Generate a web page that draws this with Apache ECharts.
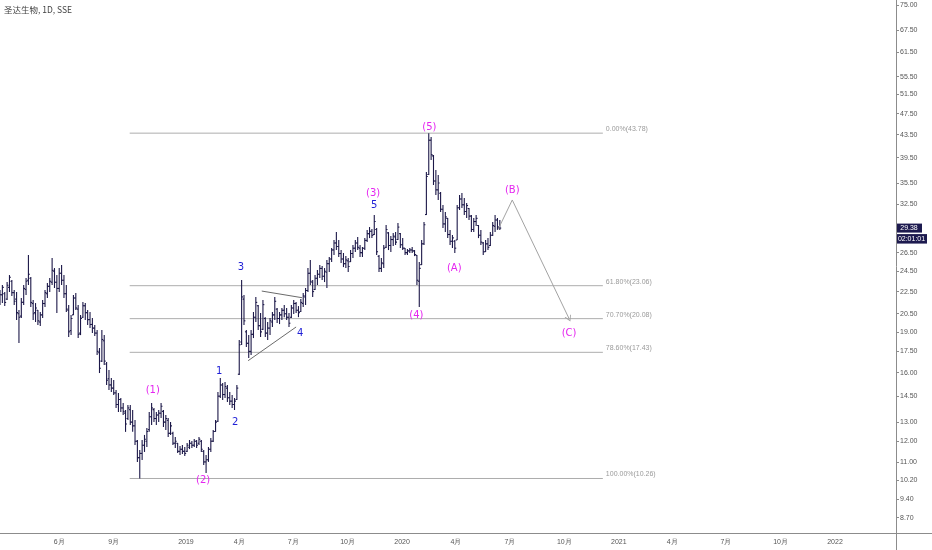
<!DOCTYPE html>
<html>
<head>
  <meta charset="utf-8" />
  <title>圣达生物 1D</title>
  <script src="https://cdn.jsdelivr.net/npm/echarts@6/dist/echarts.min.js"></script>
  <style>
    html, body { margin: 0; padding: 0; background: #fff; }
    #main { width: 932px; height: 550px; }
  </style>
</head>
<body>
<div id="main"></div>
<script type="text/javascript">
  // bars: one every 4 calendar days from barStart, [open, high, low, close]
  var barStart = '2018-02-21';
  var barStepDays = 4;
  var ohlc2018 = [
    [21.6,22.65,21.26,22.2],[22.2,23.13,21.44,22.9],[22.3,22.46,21.17,21.5],[21.8,23.42,21.72,23.1],
    [22.9,24.12,22.46,23.9],[23.5,23.62,22.08,22.4],[22.4,22.65,21.26,21.6],[21.8,22.46,19.96,20.6],
    [20.5,20.82,18.13,20.2],[20.3,21.9,20.13,21.5],[21.5,23.13,21.26,22.8],[22.7,23.82,22.18,23.5],
    [23.6,26.23,23.13,24.2],[23.8,23.92,21.09,21.5],[21.4,21.72,19.96,20.5],[20.6,21.44,19.8,21.0],
    [20.8,20.82,19.55,19.9],[19.8,20.65,19.47,20.4],[20.4,21.72,20.13,21.4],[21.4,22.65,21.09,22.4],
    [22.3,23.33,21.9,23.0],[23.0,23.82,22.46,23.5],[23.4,25.9,23.13,24.6],[24.5,24.84,22.84,23.4],
    [23.4,24.12,20.56,22.8],[22.8,24.84,22.46,24.3],[24.3,25.15,23.13,23.6],[23.6,24.12,21.9,22.3],
    [22.3,23.13,20.65,20.9],[20.8,21.26,18.59,19.0],[19.1,20.39,18.74,20.1],[20.4,22.18,20.39,21.9],
    [21.9,22.37,20.82,21.0],[20.9,21.26,18.51,18.8],[18.9,20.39,18.74,20.1],[20.2,21.53,20.13,21.2],
    [21.2,21.44,19.96,20.6],[20.6,20.82,19.55,20.0],[20.0,20.65,19.3,19.6],[19.6,20.13,18.9,19.3],
    [19.3,19.55,18.67,18.9],[18.9,19.14,17.23,17.5],[17.4,17.75,15.98,16.3],[16.8,19.14,16.74,18.4],
    [18.3,18.74,16.53,16.8],[16.6,16.74,15.19,15.5],[15.6,16.18,14.88,15.2],[15.2,15.65,14.76,15.0],
    [15.0,15.52,14.57,14.7],[14.7,14.88,13.8,14.0],[14.0,14.7,13.57,14.3],[14.3,14.39,13.57,13.8],
    [13.8,14.09,13.4,13.6],[13.5,13.68,12.48,12.9],[13.2,13.97,13.12,13.8],[13.7,13.97,12.84,13.0],
    [13.0,13.68,12.48,12.8],[12.8,13.12,11.81,12.0],[12.0,12.06,11.0,11.2],[11.2,11.56,10.26,11.4],
    [11.4,12.06,11.09,11.8],[11.8,12.32,11.47,12.1],[12.0,12.68,11.71,12.5],[12.6,13.57,12.48,13.3],
    [13.3,14.09,12.84,13.8],[13.7,13.8,13.01,13.2],[13.2,13.57,12.84,13.4],[13.4,13.68,13.01,13.5],
    [13.5,14.09,13.23,13.9],[13.6,13.68,12.74,13.0],[13.0,13.4,12.58,13.2],[13.1,13.23,12.22,12.4],
    [12.4,13.01,12.32,12.8],[12.4,12.48,11.81,11.9],[11.9,12.22,11.66,12.0],[11.9,11.91,11.42,11.5],
    [11.5,11.76,11.32,11.6],[11.6,11.81,11.37,11.5],[11.5,11.71,11.28,11.4]
  ];
  var ohlc2019 = [
    [11.5,11.91,11.47,11.8],[11.7,12.06,11.61,11.9],[11.9,12.01,11.66,11.8],[11.8,12.11,11.71,12.0],
    [12.0,12.06,11.66,11.8],[11.9,12.22,11.81,12.1],[12.0,12.06,11.47,11.6],[11.5,11.56,10.86,11.0],
    [11.0,11.32,10.5,11.1],[11.1,11.71,11.0,11.6],[11.6,12.16,11.47,12.0],[12.0,12.58,11.96,12.5],
    [12.5,13.12,12.48,13.0],[13.05,14.76,13.01,14.5],[14.5,15.65,14.39,15.2],[15.2,15.32,14.27,14.6],
    [14.6,15.39,14.39,15.1],[15.0,15.19,14.15,14.4],[14.4,14.76,13.97,14.2],[14.2,14.57,13.8,14.0],
    [14.0,14.39,13.68,14.2],[14.3,15.19,14.27,15.0],[15.9,18.36,15.85,18.0],[18.2,23.62,17.97,22.0],
    [21.8,22.18,19.55,19.9],[19.0,19.14,17.82,18.1],[18.1,18.74,17.02,17.5],[17.5,19.14,17.23,18.8],
    [18.8,20.65,18.51,20.2],[20.2,22.0,19.8,21.5],[21.2,21.26,19.14,19.5],[19.5,20.56,18.59,19.0],
    [19.2,21.72,19.14,21.3],[20.1,20.21,18.59,18.9],[18.9,19.8,18.36,19.3],[19.3,20.13,18.74,19.9],
    [19.8,20.65,19.38,20.4],[20.4,22.0,19.96,21.6],[20.9,20.99,19.71,20.1],[20.1,20.65,19.63,20.4],
    [20.4,20.99,19.96,20.8],[20.8,21.26,20.21,20.5],[20.5,20.99,19.96,20.2],[20.2,20.56,19.38,19.7],
    [20.2,21.26,20.13,21.0],[21.0,21.72,20.47,21.4],[21.4,21.53,20.56,20.8],[20.8,21.17,20.21,20.6],
    [20.7,21.81,20.65,21.5],[21.4,22.37,21.09,22.1],[22.0,22.84,21.26,22.6],[22.6,24.84,22.46,24.3],
    [24.3,25.69,23.13,23.5],[23.4,23.62,22.0,22.5],[22.7,24.12,22.65,23.8],[23.8,24.63,23.13,24.2],
    [24.2,25.15,23.82,24.8],[24.8,25.05,23.62,24.0],[24.0,24.84,23.42,24.5],[24.4,25.69,22.84,25.3],
    [25.3,26.01,24.42,25.8],[25.8,27.02,25.47,26.8],[26.8,27.94,26.23,27.6],[27.6,28.89,26.79,27.2],
    [27.2,27.94,26.01,26.4],[26.4,26.79,25.36,25.8],[25.8,26.46,24.94,25.3],[25.3,26.12,24.84,25.7],
    [25.6,25.9,24.42,25.0],[25.5,26.79,25.47,26.4],[26.4,27.36,25.9,27.0],[27.0,27.94,26.57,27.6],
    [27.6,28.29,26.79,27.1],[27.0,27.36,26.01,26.5],[26.5,27.13,26.01,27.0],[27.0,28.17,26.79,27.9],
    [27.9,29.14,27.71,28.7],[28.7,29.51,28.17,29.0],[29.0,29.26,28.17,28.5],[28.6,31.04,28.53,30.2],
    [29.2,29.39,26.23,26.6],[26.1,26.23,24.42,24.8],[24.8,25.9,24.42,25.4],[25.3,27.36,24.84,27.0],
    [27.1,29.76,27.02,29.2],[28.8,28.89,26.79,27.3],[27.3,28.41,26.57,28.0],[28.0,28.77,27.24,28.4],
    [28.3,28.89,27.36,27.7],[28.0,30.01,27.94,29.5],[28.7,28.77,27.02,27.4]
  ];
  var ohlc2020 = [
    [27.4,28.17,26.79,27.0],[27.0,27.02,26.23,26.5],[26.5,26.9,26.23,26.7],[26.7,27.02,26.46,26.8],
    [26.8,27.13,26.46,26.7],[26.7,26.79,26.12,26.3],[26.2,26.23,23.13,23.6],[23.5,25.47,21.09,24.8],
    [25.2,27.94,25.15,27.5],[27.5,30.14,27.36,29.8],[31.1,37.19,31.04,36.5],[36.8,43.78,36.72,42.5],
    [42.5,43.08,39.11,40.0],[39.8,39.94,35.21,35.8],[35.8,37.5,33.76,34.5],[34.5,36.72,33.06,35.5],
    [34.0,34.19,31.44,31.8],[31.8,32.37,29.39,29.9],[29.9,31.44,28.89,30.8],[30.6,30.65,28.17,28.6],
    [28.6,29.14,27.36,27.8],[27.8,28.53,27.02,28.2],[27.8,27.94,26.46,27.0],[27.95,32.37,27.94,32.0],
    [32.0,33.76,31.7,33.2],[33.2,34.05,31.96,32.4],[32.4,33.33,31.04,31.5],[31.5,32.64,30.65,32.3],
    [31.9,31.96,30.39,30.9],[30.9,31.04,28.89,29.2],[29.2,30.65,28.89,30.2],[30.2,31.04,29.64,30.6],
    [29.7,29.76,28.17,28.5],[28.5,29.14,27.36,27.7],[27.6,27.71,26.23,26.6],[26.6,27.94,26.57,27.5],
    [27.5,28.17,26.79,27.1],[27.3,28.89,27.24,28.5],[28.5,30.14,28.41,29.7],[29.6,31.04,28.89,30.4],
    [30.4,30.65,29.14,29.5],[29.5,30.39,29.14,29.38]
  ];

  // axes
  var xRange = ['2018-02-21', '2022-04-14'];
  var priceRange = [8.16, 76.6];
  var xTickDates = ['2018-06-01','2018-09-01','2019-01-01','2019-04-01','2019-07-01','2019-10-01',
    '2020-01-01','2020-04-01','2020-07-01','2020-10-01','2021-01-01','2021-04-01','2021-07-01',
    '2021-10-01','2022-01-01'];
  var yTicks = [75, 67.5, 61.5, 55.5, 51.5, 47.5, 43.5, 39.5, 35.5, 32.5, 26.5, 24.5, 22.5,
    20.5, 19, 17.5, 16, 14.5, 13, 12, 11, 10.2, 9.4, 8.7];

  // fibonacci retracement
  var fibHigh = 43.78;
  var fibLow = 10.26;
  var fibRatios = [0, 0.618, 0.707, 0.786, 1];
  var fibSpan = ['2018-09-28', '2020-12-05'];

  // wave counts [label, date, price]
  var majorWaves = [
    ['(1)', '2018-11-06', 14.88], ['(2)', '2019-01-30', 10.19], ['(3)', '2019-11-13', 34.05],
    ['(4)', '2020-01-25', 20.39], ['(5)', '2020-02-16', 44.9], ['(A)', '2020-03-29', 24.84],
    ['(B)', '2020-07-05', 34.4], ['(C)', '2020-10-09', 18.9]
  ];
  var minorWaves = [
    ['1', '2019-02-26', 16.1], ['2', '2019-03-25', 13.0], ['3', '2019-04-04', 24.94],
    ['4', '2019-07-13', 18.9], ['5', '2019-11-15', 32.37]
  ];

  // drawings
  var triangleUpper = [['2019-05-09', 22.55], ['2019-07-16', 21.93]];
  var triangleLower = [['2019-04-16', 16.83], ['2019-07-06', 19.39]];
  var projection = [['2020-06-11', 29.2], ['2020-07-05', 33.06], ['2020-10-09', 20.08]];

  var barColor = '#1c1848';
  var magenta = '#e526f0';
  var blue = '#1f1fd6';
  var DAY = 86400000;

  function ts(s) { return Date.parse(s + 'T00:00:00Z'); }
  function pt(p) { return [ts(p[0]), Math.log(p[1])]; }

  var t0 = ts(barStart);
  var allBars = ohlc2018.concat(ohlc2019, ohlc2020);
  var barData = allBars.map(function (b, i) {
    return [t0 + i * barStepDays * DAY, Math.log(b[0]), Math.log(b[1]), Math.log(b[2]), Math.log(b[3])];
  });
  var lastClose = allBars[allBars.length - 1][3];

  function renderOHLC(params, api) {
    var x = api.value(0);
    var o = api.coord([x, api.value(1)]);
    var h = api.coord([x, api.value(2)]);
    var l = api.coord([x, api.value(3)]);
    var c = api.coord([x, api.value(4)]);
    var w = 1.4;
    var style = { stroke: barColor, lineWidth: 1.1 };
    return {
      type: 'group',
      children: [
        { type: 'line', shape: { x1: h[0], y1: h[1], x2: l[0], y2: l[1] }, style: style },
        { type: 'line', shape: { x1: o[0] - w, y1: o[1], x2: o[0], y2: o[1] }, style: style },
        { type: 'line', shape: { x1: c[0], y1: c[1], x2: c[0] + w, y2: c[1] }, style: style }
      ]
    };
  }

  var fibSeries = fibRatios.map(function (r) {
    var level = fibHigh - r * (fibHigh - fibLow);
    var text = (r * 100).toFixed(2) + '%(' + level.toFixed(2) + ')';
    return {
      type: 'line',
      data: [[ts(fibSpan[0]), Math.log(level)], [ts(fibSpan[1]), Math.log(level)]],
      symbol: 'none',
      silent: true,
      lineStyle: { color: '#adadad', width: 1 },
      endLabel: {
        show: true,
        formatter: text,
        color: '#9a9a9a',
        fontSize: 7,
        fontFamily: 'Liberation Sans',
        distance: 3,
        offset: [0, -4]
      },
      z: 1
    };
  });

  function waveSeries(list, color) {
    return {
      type: 'scatter',
      symbolSize: 2,
      itemStyle: { color: 'rgba(0,0,0,0)' },
      silent: true,
      data: list.map(function (w) { return { name: w[0], value: pt([w[1], w[2]]) }; }),
      label: {
        show: true,
        position: 'inside',
        formatter: function (p) { return p.name; },
        color: color,
        opacity: 1,
        textBorderWidth: 0,
        fontSize: 10,
        fontFamily: 'DejaVu Sans'
      },
      labelLayout: { hideOverlap: false },
      z: 5
    };
  }

  var arrowHead = 'path://M0,10 L5,0 L10,10 L8.6,10 L5,2.8 L1.4,10 Z';

  var chartDom = document.getElementById('main');
  var myChart = echarts.init(chartDom);
  var option = {
    animation: false,
    backgroundColor: '#ffffff',
    title: {
      text: '圣达生物, 1D, SSE',
      left: 4,
      top: 6,
      padding: 0,
      textStyle: { fontSize: 8.5, color: '#444', fontWeight: 'normal', fontFamily: 'Noto Sans CJK SC' }
    },
    grid: { left: 0, right: 36, top: 0, bottom: 17 },
    xAxis: {
      type: 'value',
      min: ts(xRange[0]),
      max: ts(xRange[1]),
      splitLine: { show: false },
      axisTick: { show: false },
      axisLine: { show: true, lineStyle: { color: '#8c8c8c' } },
      axisLabel: {
        customValues: xTickDates.map(ts),
        margin: 6,
        fontSize: 7,
        color: '#555',
        fontFamily: 'Liberation Sans',
        formatter: function (v) {
          var d = new Date(v);
          return d.getUTCMonth() === 0 ? String(d.getUTCFullYear()) : (d.getUTCMonth() + 1) + '月';
        }
      }
    },
    yAxis: {
      type: 'value',
      position: 'right',
      min: Math.log(priceRange[0]),
      max: Math.log(priceRange[1]),
      splitLine: { show: false },
      axisLine: { show: true, lineStyle: { color: '#8c8c8c' } },
      axisTick: { show: true, length: 3, customValues: yTicks.map(Math.log), lineStyle: { color: '#8c8c8c' } },
      axisLabel: {
        customValues: yTicks.map(Math.log),
        margin: 4,
        fontSize: 7,
        color: '#555',
        fontFamily: 'Liberation Sans',
        formatter: function (v) { return Math.exp(v).toFixed(2); }
      }
    },
    series: fibSeries.concat([
      {
        type: 'line',
        data: triangleUpper.map(pt),
        symbol: 'none',
        silent: true,
        lineStyle: { color: '#6b6b6b', width: 1 },
        z: 2
      },
      {
        type: 'line',
        data: triangleLower.map(pt),
        symbol: 'none',
        silent: true,
        lineStyle: { color: '#6b6b6b', width: 1 },
        z: 2
      },
      {
        type: 'line',
        data: [],
        silent: true,
        markLine: {
          silent: true,
          animation: false,
          symbol: ['none', 'none'],
          label: { show: false },
          lineStyle: { color: '#a3a3a3', width: 1, type: 'solid' },
          data: [
            [{ coord: pt(projection[0]) }, { coord: pt(projection[1]) }],
            [{ coord: pt(projection[1]) }, { coord: pt(projection[2]), symbol: arrowHead, symbolSize: [7, 6] }]
          ]
        }
      },
      {
        type: 'custom',
        renderItem: renderOHLC,
        data: barData,
        encode: { x: 0, y: [1, 2, 3, 4] },
        silent: true,
        z: 3
      },
      waveSeries(majorWaves, magenta),
      waveSeries(minorWaves, blue)
    ])
  };

  option && myChart.setOption(option);

  // last price tag and countdown on the price scale
  var py = myChart.convertToPixel({ yAxisIndex: 0 }, Math.log(lastClose));
  myChart.setOption({
    graphic: [
      { type: 'line', shape: { x1: 896, y1: 533.5, x2: 932, y2: 533.5 }, style: { stroke: '#8c8c8c', lineWidth: 1 } },
      { type: 'line', shape: { x1: 896.5, y1: 533, x2: 896.5, y2: 550 }, style: { stroke: '#8c8c8c', lineWidth: 1 } },
      { type: 'rect', shape: { x: 896, y: py - 4.5, width: 26, height: 9 }, style: { fill: '#1d1a4f' } },
      { type: 'text', x: 909, y: py, style: { text: lastClose.toFixed(2), fill: '#fff', fontSize: 7,
        fontFamily: 'Liberation Sans', align: 'center', verticalAlign: 'middle' } },
      { type: 'rect', shape: { x: 896, y: py + 6, width: 31, height: 9.5 }, style: { fill: '#1d1a4f' } },
      { type: 'text', x: 911.5, y: py + 10.8, style: { text: '02:01:01', fill: '#fff', fontSize: 7,
        fontFamily: 'Liberation Sans', align: 'center', verticalAlign: 'middle' } }
    ]
  });
</script>
</body>
</html>
